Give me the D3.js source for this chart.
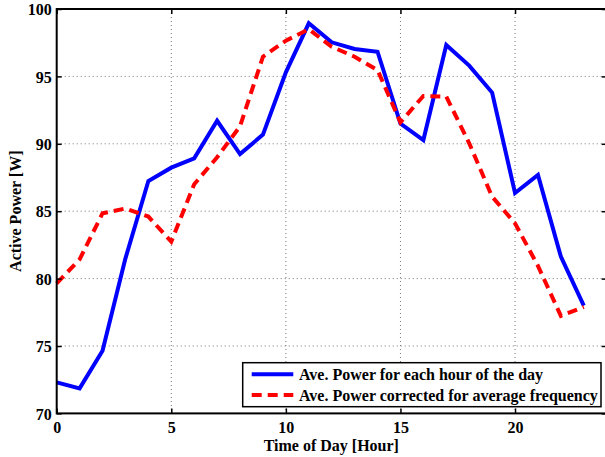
<!DOCTYPE html>
<html><head><meta charset="utf-8">
<script src="https://cdn.jsdelivr.net/npm/d3@7"></script>
<style>body{margin:0;background:#fff}svg{display:block}text{font-family:"Liberation Serif","Times New Roman",serif;font-weight:bold}</style>
</head><body>
<svg id="c" width="605" height="457"></svg>
<script>
const hours = d3.range(0, 24);
const avePower = [72.3,71.86,74.65,81.5,87.24,88.23,88.92,91.71,89.24,90.68,95.3,98.94,97.53,97.03,96.83,91.5,90.28,97.33,95.8,93.8,86.35,87.69,81.63,77.99];
const corrPower = [79.65,81.43,84.84,85.2,84.6,82.74,87.0,89.0,91.3,96.46,97.65,98.5,97.2,96.46,95.47,91.6,93.55,93.5,90.04,86.08,84.1,80.95,77.23,77.9];
const xTicks = [0,5,10,15,20];
const yTicks = [70,75,80,85,90,95,100];
const seriesNames = ["Ave. Power for each hour of the day","Ave. Power corrected for average frequency"];

const svg = d3.select("#c");
const L=56.7, R=606.7, T=9, B=413.4;
const x = d3.scaleLinear().domain([0,24]).range([L,R]);
const y = d3.scaleLinear().domain([70,100]).range([B,T]);

// grid
const g = svg.append("g");
g.selectAll(".gx").data(xTicks.filter(d=>d>0)).join("line")
 .attr("x1",d=>x(d)).attr("x2",d=>x(d)).attr("y1",T).attr("y2",B)
 .attr("stroke","#777").attr("stroke-width",1).attr("stroke-dasharray","1,3");
g.selectAll(".gy").data(yTicks.filter(d=>d>70&&d<100)).join("line")
 .attr("y1",d=>y(d)).attr("y2",d=>y(d)).attr("x1",L).attr("x2",R)
 .attr("stroke","#777").attr("stroke-width",1).attr("stroke-dasharray","1,3");

// lines
const line = d3.line().x((d,i)=>x(hours[i])).y(d=>y(d));
svg.append("path").datum(avePower).attr("d",line).attr("fill","none")
 .attr("stroke","#0000ff").attr("stroke-width",4).attr("stroke-linejoin","miter");
svg.append("path").datum(corrPower).attr("d",line).attr("fill","none")
 .attr("stroke","#ff0000").attr("stroke-width",4).attr("stroke-dasharray","10,6");

// box
svg.append("rect").attr("x",L).attr("y",T).attr("width",R-L).attr("height",B-T)
 .attr("fill","none").attr("stroke","#000").attr("stroke-width",2);

// axes (inward ticks)
const ax = svg.append("g").attr("transform",`translate(0,${B})`)
 .call(d3.axisBottom(x).tickValues(xTicks).tickSize(-5).tickPadding(8));
const axT = svg.append("g").attr("transform",`translate(0,${T})`)
 .call(d3.axisTop(x).tickValues(xTicks).tickSize(-5).tickFormat(""));
const ay = svg.append("g").attr("transform",`translate(${L},0)`)
 .call(d3.axisLeft(y).tickValues(yTicks).tickSize(-5).tickPadding(5));
const ayR = svg.append("g").attr("transform",`translate(${R},0)`)
 .call(d3.axisRight(y).tickValues(yTicks).tickSize(-5).tickFormat(""));
[ax,axT,ay,ayR].forEach(a=>{a.select(".domain").remove();a.selectAll(".tick line").attr("stroke","#000").attr("stroke-width",1.5);});
ax.selectAll("text").attr("font-size",16).attr("fill","#000").attr("font-family","Liberation Serif").attr("font-weight","bold");
ay.selectAll("text").attr("font-size",16).attr("fill","#000").attr("font-family","Liberation Serif").attr("font-weight","bold").attr("dy","0.35em");

// labels
svg.append("text").attr("x",331.3).attr("y",450.5).attr("text-anchor","middle").attr("font-size",16).text("Time of Day [Hour]");
svg.append("text").attr("transform",`translate(20.5,${(T+B)/2}) rotate(-90)`).attr("text-anchor","middle").attr("font-size",16).text("Active Power [W]");

// legend
const lg = svg.append("g");
lg.append("rect").attr("x",242.7).attr("y",362.7).attr("width",358.3).attr("height",44).attr("fill","#fff").attr("stroke","#000").attr("stroke-width",1.5);
const colors=["#0000ff","#ff0000"], dashes=[null,"10,6"], ly=[374.3,395];
seriesNames.forEach((n,i)=>{
  lg.append("line").attr("x1",251.7).attr("x2",293.3).attr("y1",ly[i]).attr("y2",ly[i])
    .attr("stroke",colors[i]).attr("stroke-width",4).attr("stroke-dasharray",dashes[i]);
  lg.append("text").attr("x",299).attr("y",ly[i]+5.5).attr("font-size",16).text(n);
});
</script>
</body></html>
